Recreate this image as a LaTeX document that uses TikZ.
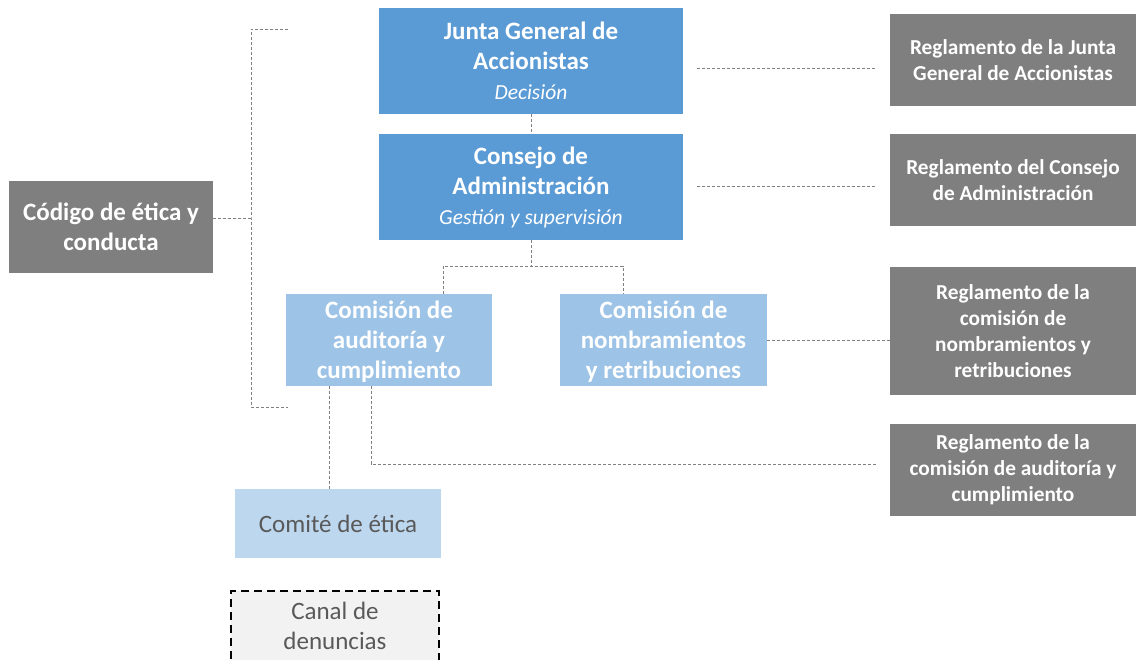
\documentclass[tikz,border=0pt]{standalone}
\usepackage{fontspec}
\setmainfont{Carlito}
\usepackage{tikz}
\usetikzlibrary{positioning}
\definecolor{azul}{HTML}{5B9BD5}
\definecolor{azulclaro}{HTML}{9DC3E6}
\definecolor{azulpalido}{HTML}{BDD7EE}
\definecolor{gris}{HTML}{7F7F7F}
\definecolor{grisclaro}{HTML}{F2F2F2}
\definecolor{textogris}{HTML}{595959}
\tikzstyle{organo}=[rectangle, fill=azul, text=white, align=center, inner sep=0pt,
  minimum width=304pt, minimum height=106pt, font=\bfseries\fontsize{25}{30}\selectfont]
\tikzstyle{comision}=[rectangle, fill=azulclaro, text=white, align=center, inner sep=0pt,
  minimum width=206pt, minimum height=92pt, text depth=0pt, font=\bfseries\fontsize{25}{30}\selectfont]
\tikzstyle{norma}=[rectangle, fill=gris, text=white, align=center, inner sep=0pt,
  minimum width=246pt, minimum height=92pt, font=\bfseries\fontsize{21.3}{26}\selectfont]
\tikzstyle{comite}=[rectangle, fill=azulpalido, text=textogris, align=center, inner sep=0pt,
  minimum width=206pt, minimum height=69pt, font=\fontsize{25}{30}\selectfont]
\tikzstyle{canal}=[rectangle, fill=grisclaro, draw=black, line width=1.4pt,
  dash pattern=on 8pt off 5pt, text=textogris, align=center, inner sep=0pt,
  minimum width=208pt, minimum height=70pt, font=\fontsize{25}{30}\selectfont]
\tikzstyle{enlace}=[draw=gray, line width=0.8pt, dash pattern=on 3pt off 2pt]
\newcommand{\funcion}[1]{{\mdseries\itshape\fontsize{21.5}{26}\selectfont #1}}

\begin{document}
\begin{tikzpicture}[x=1pt, y=-1pt]
      \useasboundingbox (0,0) rectangle (1136,660);
      \clip (0,0) rectangle (1136,660);

      % organos de gobierno
      \draw node at (531, 61) [organo] (junta) {Junta General de\\Accionistas\\\funcion{Decisión}};
      \draw node at (531, 187) [organo] (consejo) {Consejo de\\Administración\\\funcion{Gestión y supervisión}};

      % comisiones
      \draw node at (389, 340) [comision] (auditoria) {Comisión de\\auditoría y\\cumplimiento};
      \draw node at (663.5, 340) [comision, minimum width=207pt] (nombramientos) {Comisión de\\nombramientos\\y retribuciones};
      \draw node at (338, 523.5) [comite] (comite) {Comité de ética};
      \draw node at (335, 626) [canal] (canal) {Canal de\\denuncias};

      % normas
      \draw node at (111, 227) [norma, minimum width=204pt, font=\bfseries\fontsize{25}{30}\selectfont] (codigo) {Código de ética y\\conducta};
      \draw node at (1013, 60) [norma] (regjunta) {Reglamento de la Junta\\General de Accionistas};
      \draw node at (1013, 180) [norma] (regconsejo) {Reglamento del Consejo\\de Administración};
      \draw node at (1013, 331) [norma, minimum height=128pt] (regnombr) {Reglamento de la\\comisión de\\nombramientos y\\retribuciones};
      \draw node at (1013, 470) [norma] (regaudit) {Reglamento de la\\comisión de auditoría y\\cumplimiento};

      % enlaces
      \draw [enlace] (junta) to (consejo);
      \coordinate (splitL) at (443, 266);
      \coordinate (splitR) at (623, 266);
      \draw [enlace] (consejo.south) to (consejo.south |- splitL);
      \draw [enlace] (auditoria.north -| splitL) -- (splitL) -- (splitR) -- (nombramientos.north -| splitR);

      \coordinate (jA) at (697, 68);
      \coordinate (jB) at ([xshift=-13pt]jA -| regjunta.west);
      \draw [enlace] (jA) to (jB);
      \draw [enlace, shorten <=14pt, shorten >=13pt] ([yshift=1pt]consejo.east) to ([yshift=1pt]consejo.east -| regconsejo.west);
      \draw [enlace] (nombramientos.east) to (nombramientos.east -| regnombr.west);

      \coordinate (aA) at ([xshift=-18pt]auditoria.south);
      \coordinate (aB) at ([xshift=-13pt, yshift=6pt]regaudit.west);
      \draw [enlace] (aA) |- (aB);
      \coordinate (cA) at ([xshift=-60pt]auditoria.south);
      \draw [enlace] (cA) to (cA |- comite.north);

      \coordinate (brTop) at (288, 29);
      \coordinate (brMid) at (251, 218);
      \coordinate (brBot) at (288, 407);
      \draw [enlace] (brTop) -| (brMid) |- (brBot);
      \draw [enlace] ([yshift=9pt]codigo.east) to (brMid);
    \end{tikzpicture}
\end{document}
